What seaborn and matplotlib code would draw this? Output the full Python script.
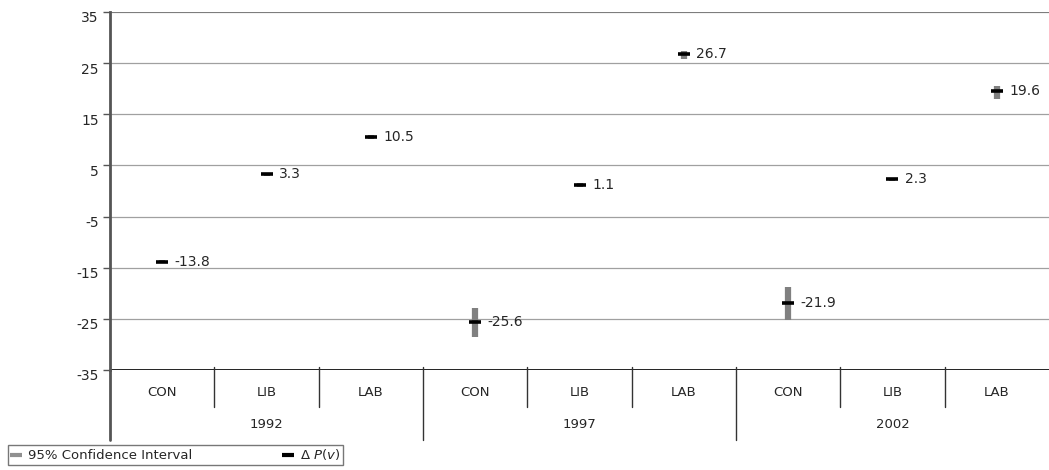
import matplotlib
matplotlib.use("Agg")
import matplotlib.pyplot as plt
import matplotlib.transforms as mtrans
from matplotlib.lines import Line2D
import seaborn as sns
import pandas as pd
import numpy as np

years = ["1992", "1997", "2002"]
parties = ["CON", "LIB", "LAB"]
delta_pv = [-13.8, 3.3, 10.5, -25.6, 1.1, 26.7, -21.9, 2.3, 19.6]
ci_low = [-14.1, 3.0, 10.1, -28.6, 0.7, 25.8, -25.2, 2.0, 18.0]
ci_high = [-13.5, 3.6, 10.9, -22.8, 1.5, 27.3, -18.8, 2.6, 20.5]
y_ticks = [35, 25, 15, 5, -5, -15, -25, -35]

sns.set_style("white")
plt.rcParams["font.family"] = ["DejaVu Sans"]
plt.rcParams["axes.unicode_minus"] = False

labels = [f"{y} {p}" for y in years for p in parties]
df = pd.DataFrame({"label": labels, "pos": np.arange(len(labels)),
                   "dpv": delta_pv, "lo": ci_low, "hi": ci_high})

fig = plt.figure(figsize=(10.49, 4.70), dpi=100)
ax = fig.add_axes([110 / 1049, 1 - 370 / 470, 939 / 1049, 358 / 470])

ax.set_ylim(-35, 35)
ax.set_xlim(-0.5, len(labels) - 0.5)
ax.set_yticks(y_ticks)
for t in y_ticks:
    ax.axhline(t, color="#a0a0a0", lw=0.9, zorder=0)

# confidence intervals
ax.vlines(df["pos"], df["lo"], df["hi"], color="#808080", lw=4.5, zorder=2)
# point estimates
sns.scatterplot(data=df, x="pos", y="dpv", marker="_", s=80, color="black",
                linewidth=2.6, ax=ax, zorder=3, legend=False)
for _, r in df.iterrows():
    ax.text(r["pos"] + 0.12, r["dpv"], f"{r['dpv']:.1f}", va="center",
            ha="left", fontsize=10)

# spines
for s in ["top", "right", "bottom"]:
    ax.spines[s].set_visible(False)
ax.spines["left"].set_color("#555555")
ax.spines["left"].set_linewidth(2)
ax.axhline(-35, color="black", lw=1.2, zorder=1)
ax.axhline(35, color="#777777", lw=1.2, zorder=1)

ax.tick_params(axis="y", left=True, length=5, width=1, color="#555555",
               labelsize=10, pad=3, direction="out")
ax.set_xticks([])
ax.set_xlabel("")
ax.set_ylabel("")
for lab in ax.get_yticklabels():
    lab.set_transform(lab.get_transform() + mtrans.ScaledTranslation(0, -5 / 100, fig.dpi_scale_trans))

trans = mtrans.blended_transform_factory(ax.transData, ax.transAxes)
ax_h = 358
# left axis extension
ax.plot([-0.5, -0.5], [0, -70 / ax_h], transform=trans, color="#555555",
        lw=2, clip_on=False)
for i, lab in enumerate(labels):
    ax.text(i, -22 / ax_h, lab.split()[1], transform=trans, ha="center",
            va="center", fontsize=9.5)
for j, y in enumerate(years):
    ax.text(j * 3 + 1, -55 / ax_h, y, transform=trans, ha="center",
            va="center", fontsize=9.5)
for i in range(1, len(labels)):
    bottom = -70 / ax_h if i % 3 == 0 else -37 / ax_h
    ax.plot([i - 0.5, i - 0.5], [3 / ax_h, bottom], transform=trans,
            color="#333333", lw=1, clip_on=False)

handles = [Line2D([], [], color="#909090", marker="_", ls="none", ms=8, mew=3),
           Line2D([], [], color="black", marker="_", ls="none", ms=8, mew=3)]
leg = fig.legend(handles, ["95% Confidence Interval", r"$\Delta\ P(v)$"],
                 ncol=2, loc="lower left",
                 bbox_to_anchor=(8 / 1049, 5 / 470, 335 / 1049, 23 / 470),
                 mode="expand", frameon=True, fancybox=False, fontsize=9.5,
                 handlelength=0.8, handletextpad=0.5, borderpad=0.2,
                 borderaxespad=0, columnspacing=2)
leg.get_frame().set_edgecolor("#555555")
leg.get_frame().set_linewidth(1)

fig.savefig("out.png", dpi=100)
